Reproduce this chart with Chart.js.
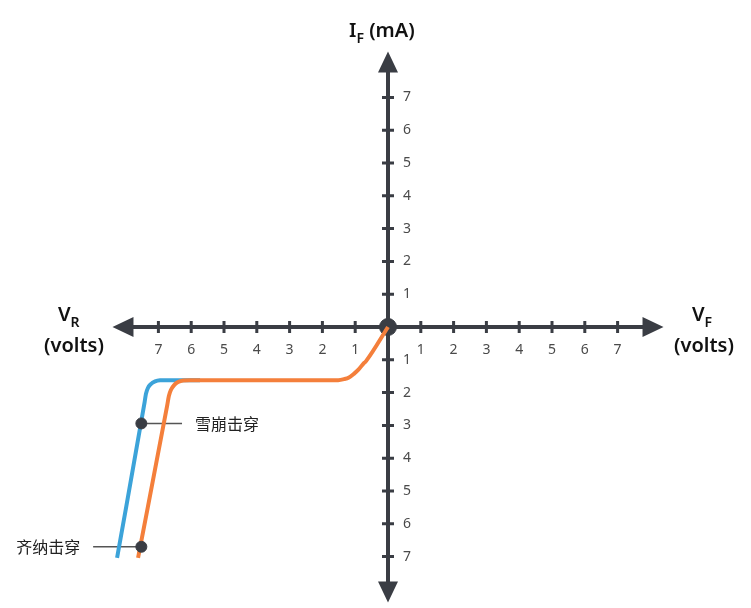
<!DOCTYPE html>
<html>
<head>
<meta charset="utf-8">
<script src="https://cdn.jsdelivr.net/npm/chart.js@4/dist/chart.umd.min.js"></script>
<style>
  body { margin: 0; background: #fff; }
  #wrap { width: 751px; height: 608px; }
</style>
</head>
<body>
<div id="wrap"><canvas id="iv" width="751" height="608"></canvas></div>
<script>
  // tick labels on both axes
  let tickValues = [1, 2, 3, 4, 5, 6, 7];
  let axisEnd = 8.4;

  // blue curve (avalanche), x = volts, y = mA
  let avalancheX = [-8.26, -7.42, -7.38, -7.32, -7.23, -7.10, -6.95, -6.77, -5.73];
  let avalancheY = [-7.04, -2.29, -2.04, -1.86, -1.74, -1.66, -1.625, -1.62, -1.62];

  // orange curve (zener), runs up to the origin
  let zenerX = [-7.62, -6.73, -6.68, -6.62, -6.52, -6.40, -6.25, -6.04, -1.52, -1.34, -1.19, -1.04, -0.91, -0.76, -0.67, 0];
  let zenerY = [-7.04, -2.38, -2.10, -1.92, -1.77, -1.68, -1.63, -1.62, -1.62, -1.59, -1.54, -1.43, -1.31, -1.13, -1.04, 0];

  // annotated points
  let markerLabels = ['雪崩击穿', '齐纳击穿'];
  let markerX = [-7.52, -7.52];
  let markerY = [-2.94, -6.70];
  let leaderEndX = [-6.28, -8.99];

  let axisColor = '#3a3d44';

  let toPoints = (xs, ys) => xs.map((x, i) => ({ x: x, y: ys[i] }));

  let axesPlugin = {
    id: 'crossAxes',
    beforeDatasetsDraw(chart) {
      let c = chart.ctx;
      let sx = chart.scales.x, sy = chart.scales.y;
      let ox = sx.getPixelForValue(0), oy = sy.getPixelForValue(0);
      let head = 20, half = 10;
      c.save();
      c.strokeStyle = axisColor;
      c.fillStyle = axisColor;
      c.lineWidth = 4;
      let l = sx.getPixelForValue(-axisEnd), r = sx.getPixelForValue(axisEnd);
      let t = sy.getPixelForValue(axisEnd), b = sy.getPixelForValue(-axisEnd);
      c.beginPath();
      c.moveTo(l + head, oy); c.lineTo(r - head, oy);
      c.moveTo(ox, t + head); c.lineTo(ox, b - head);
      c.stroke();
      // arrow heads
      c.beginPath();
      c.moveTo(l, oy); c.lineTo(l + head + 1, oy - half); c.lineTo(l + head + 1, oy + half); c.closePath();
      c.moveTo(r, oy); c.lineTo(r - head - 1, oy - half); c.lineTo(r - head - 1, oy + half); c.closePath();
      c.moveTo(ox, t); c.lineTo(ox - half, t + head + 1); c.lineTo(ox + half, t + head + 1); c.closePath();
      c.moveTo(ox, b); c.lineTo(ox - half, b - head - 1); c.lineTo(ox + half, b - head - 1); c.closePath();
      c.fill();
      // ticks
      c.lineWidth = 3;
      c.beginPath();
      tickValues.forEach(v => {
        [v, -v].forEach(s => {
          let px = sx.getPixelForValue(s);
          c.moveTo(px, oy - 6); c.lineTo(px, oy + 6);
          let py = sy.getPixelForValue(s);
          c.moveTo(ox - 6, py); c.lineTo(ox + 6, py);
        });
      });
      c.stroke();
      c.fillStyle = '#4a4a4a';
      c.font = '14px "Noto Sans"';
      c.textBaseline = 'middle';
      tickValues.forEach(v => {
        c.textAlign = 'center';
        c.fillText(String(v), sx.getPixelForValue(v), oy + 23);
        c.fillText(String(v), sx.getPixelForValue(-v), oy + 23);
        c.textAlign = 'left';
        c.fillText(String(v), ox + 15, sy.getPixelForValue(v));
        c.fillText(String(v), ox + 15, sy.getPixelForValue(-v));
      });
      c.restore();
    },
    afterDatasetsDraw(chart) {
      let c = chart.ctx;
      let sx = chart.scales.x, sy = chart.scales.y;
      c.save();
      c.fillStyle = '#111';
      c.textBaseline = 'alphabetic';
      let big = '600 20px "Noto Sans"', sub = '600 14px "Noto Sans"';
      // variable with subscript, drawn from its left edge
      let subLabel = (main, s, x, y) => {
        c.textAlign = 'left';
        c.font = big; c.fillText(main, x, y);
        let w = c.measureText(main).width;
        c.font = sub; c.fillText(s, x + w, y + 6);
        return w + c.measureText(s).width;
      };
      let w = subLabel('I', 'F', 349, 37);
      c.font = big; c.textAlign = 'left';
      c.fillText(' (mA)', 349 + w, 37);
      subLabel('V', 'R', 58, 321);
      subLabel('V', 'F', 692, 321);
      c.font = big; c.textAlign = 'center';
      c.fillText('(volts)', 74, 352);
      c.fillText('(volts)', 704, 352);
      // marker labels
      c.font = '16px "Noto Sans CJK SC"';
      c.fillStyle = '#222';
      c.textBaseline = 'middle';
      c.textAlign = 'left';
      c.fillText(markerLabels[0], sx.getPixelForValue(leaderEndX[0]) + 13, sy.getPixelForValue(markerY[0]));
      c.textAlign = 'right';
      c.fillText(markerLabels[1], sx.getPixelForValue(leaderEndX[1]) - 13, sy.getPixelForValue(markerY[1]));
      c.restore();
    }
  };

  let ctx = document.getElementById('iv').getContext('2d');
  let chart = new Chart(ctx, {
    type: 'scatter',
    data: {
      datasets: [
        {
          label: 'markers',
          data: toPoints(markerX, markerY),
          backgroundColor: '#3a3d44',
          borderColor: '#3a3d44',
          pointRadius: 5.5,
          order: 0
        },
        {
          label: 'zener',
          data: toPoints(zenerX, zenerY),
          showLine: true,
          borderColor: '#f47f3b',
          borderWidth: 4,
          pointRadius: 0,
          cubicInterpolationMode: 'monotone',
          order: 1
        },
        {
          label: 'avalanche',
          data: toPoints(avalancheX, avalancheY),
          showLine: true,
          borderColor: '#3ca3d9',
          borderWidth: 4,
          pointRadius: 0,
          cubicInterpolationMode: 'monotone',
          order: 2
        },
        {
          label: 'origin',
          data: [{ x: 0, y: 0 }],
          backgroundColor: '#3a3d44',
          borderColor: '#3a3d44',
          pointRadius: 8.5,
          order: 3
        },
        {
          label: 'leader1',
          data: toPoints([markerX[0], leaderEndX[0]], [markerY[0], markerY[0]]),
          showLine: true,
          borderColor: '#555',
          borderWidth: 1.5,
          pointRadius: 0,
          order: 4
        },
        {
          label: 'leader2',
          data: toPoints([leaderEndX[1], markerX[1]], [markerY[1], markerY[1]]),
          showLine: true,
          borderColor: '#555',
          borderWidth: 1.5,
          pointRadius: 0,
          order: 4
        }
      ]
    },
    options: {
      responsive: false,
      devicePixelRatio: 1,
      animation: false,
      layout: { padding: 0, autoPadding: false },
      plugins: { legend: { display: false }, tooltip: { enabled: false } },
      scales: {
        x: { type: 'linear', min: -388 / 32.8, max: (751 - 388) / 32.8, display: false },
        y: { type: 'linear', min: -(608 - 327) / 32.8, max: 327 / 32.8, display: false }
      }
    },
    plugins: [axesPlugin]
  });
</script>
</body>
</html>
